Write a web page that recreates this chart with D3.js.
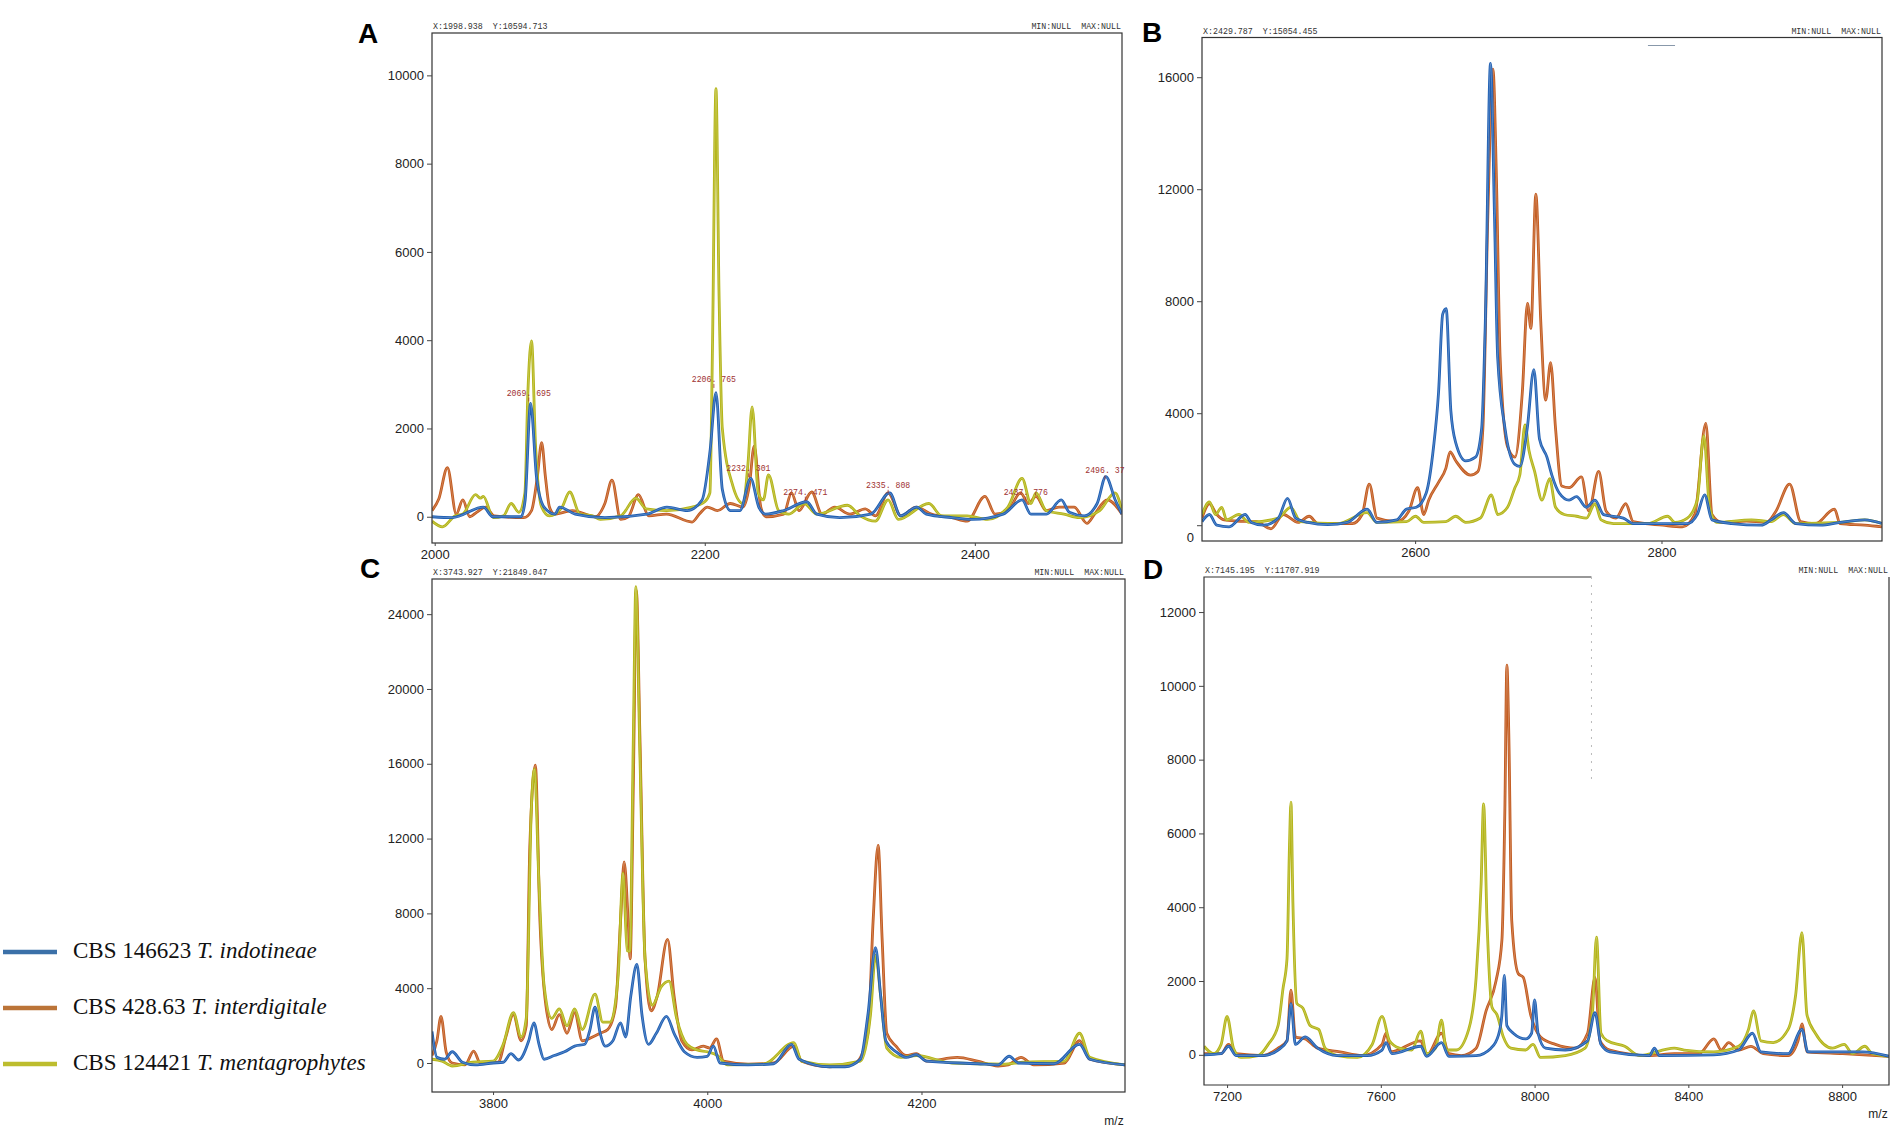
<!DOCTYPE html>
<html>
<head>
<meta charset="utf-8">
<script src="https://cdn.jsdelivr.net/npm/d3@7.9.0/dist/d3.min.js"></script>
<style>
  body { margin: 0; background: #fff; }
  svg { display: block; }
</style>
</head>
<body>
<svg id="chart" width="1904" height="1133"></svg>
<script>
// legend entries
const strains = ['CBS 146623', 'CBS 428.63', 'CBS 124421'];
const species = ['T. indotineae', 'T. interdigitale', 'T. mentagrophytes'];

// panel A : m/z 2000-2500
const aIndotineae = [[1998,0],[2013,-20],[2036,220],[2043,0],[2064,0],[2067,380],[2071,2570],[2075.5,870],[2081,220],[2089,60],[2092.5,220],[2104,60],[2126,-20],[2157,60],[2172,220],[2187,140],[2198,380],[2204,1515],[2208.3,2810],[2213,620],[2219,140],[2226,140],[2234,870],[2240,220],[2245,60],[2258.5,140],[2275.5,340],[2283,60],[2300,-20],[2323,60],[2337,540],[2345,20],[2357,220],[2364,60],[2383,-20],[2398,-60],[2421,60],[2435,380],[2441.5,60],[2453,60],[2464,380],[2470,100],[2481,20],[2490.6,300],[2497,910],[2504,380],[2509,60]];
const aInterdigitale = [[1998,140],[2003,400],[2009.4,1110],[2016,60],[2020.8,380],[2026,0],[2031,100],[2037.7,220],[2044,20],[2066,-20],[2071.7,140],[2076,900],[2079.2,1680],[2082,900],[2085,220],[2088.7,60],[2101.9,140],[2118.9,0],[2126,300],[2131.3,830],[2137.7,-60],[2143.4,0],[2150.9,500],[2158.5,20],[2171.7,60],[2190.6,-120],[2196,60],[2201.9,220],[2209.4,140],[2218.9,300],[2228.3,220],[2233,700],[2236.6,1600],[2241.5,220],[2245.3,0],[2258.5,60],[2264.2,540],[2269.8,140],[2279.2,560],[2286.8,60],[2296.2,220],[2307.5,60],[2318.9,180],[2326.4,20],[2335.8,540],[2345.3,20],[2356.6,220],[2367.9,60],[2383,-20],[2394.3,-100],[2407.5,460],[2415,60],[2424.5,140],[2433.9,540],[2439.6,300],[2445.3,460],[2452.8,140],[2462.3,220],[2473.6,220],[2483,-150],[2488.7,60],[2498.1,380],[2509,60]];
const aMentagrophytes = [[1998,-100],[2005.7,-230],[2015.1,20],[2020.8,60],[2030.2,500],[2034,420],[2036,460],[2043.4,-20],[2050.9,20],[2056.6,300],[2062.3,100],[2066.8,540],[2069,2810],[2071.7,3985],[2074.7,1600],[2079.2,220],[2084.9,20],[2094,200],[2100,560],[2107.5,60],[2117,20],[2122.6,-60],[2137.7,20],[2149,420],[2156.6,180],[2171.7,140],[2190.6,220],[2200,340],[2203.8,540],[2205.7,3800],[2208.3,9700],[2210.6,5000],[2213,2000],[2220.8,700],[2228.3,300],[2232,1200],[2235.1,2490],[2239.6,540],[2243.4,380],[2247.2,950],[2254.7,140],[2262.3,60],[2273.6,300],[2283,60],[2305.7,260],[2315.1,20],[2326.4,-100],[2335.8,380],[2343.4,-60],[2366,300],[2375.5,20],[2394.3,20],[2409.4,-60],[2424.5,220],[2435,870],[2441.5,300],[2445.3,540],[2452.8,140],[2466,60],[2477.4,-20],[2492.5,140],[2503.8,540],[2509,140]];
// peak labels of panel A
const aPeakMz = [2069.695, 2206.765, 2232.301, 2274.471, 2335.808, 2437.776, 2496.37];
const aPeakLabelY = [2746, 3054, 1029, 502, 656, 502, 980];

// panel B : m/z 2430-2980
const bIndotineae = [[2427,128],[2433,383],[2439,0],[2449,-60],[2462,383],[2467,100],[2477,0],[2489,255],[2496.4,960],[2503,255],[2513,100],[2529,20],[2545,100],[2561,575],[2569,100],[2585,190],[2593,575],[2601,640],[2609,1150],[2615,2810],[2619,4730],[2622.4,7540],[2625.2,7730],[2629,4090],[2633,2940],[2641,2300],[2649,2430],[2654,3450],[2657,7280],[2661.2,16490],[2664.4,11120],[2667,6000],[2673,3450],[2681,2170],[2685,2100],[2691,3450],[2696.4,5560],[2701,3070],[2707,2430],[2711,1790],[2717,1150],[2725,895],[2731,1020],[2739,640],[2746,895],[2753,380],[2769,255],[2777,60],[2801,60],[2821,60],[2829,380],[2835,1086],[2841,190],[2857,60],[2881,0],[2889,190],[2899,447],[2909,60],[2929,0],[2945,100],[2965,190],[2979,60]];
const bInterdigitale = [[2427,255],[2433,767],[2439,380],[2445,190],[2455,150],[2471,128],[2483,-128],[2493,383],[2505,100],[2514,320],[2521,60],[2549,60],[2557,383],[2562.8,1470],[2569,255],[2585,128],[2595,510],[2602,1340],[2607,383],[2611,895],[2619,1530],[2625,2040],[2628.4,2620],[2633,2300],[2645,1790],[2651,1920],[2655,3450],[2659,11000],[2663.2,16290],[2666,12400],[2669,6000],[2675,2810],[2681,2430],[2687,4730],[2691.2,7920],[2694,7030],[2698,11820],[2702,7280],[2706,4470],[2710,5810],[2714,3450],[2719,1400],[2725,1340],[2735,1725],[2741,510],[2749,1920],[2755,510],[2763,255],[2771,767],[2777,128],[2801,0],[2817,-60],[2827,383],[2836,3640],[2841,383],[2849,100],[2869,150],[2885,100],[2893,510],[2904,1470],[2913,128],[2925,60],[2940.4,575],[2945,60],[2965,0],[2979,-60]];
const bMentagrophytes = [[2427,383],[2433,830],[2438,383],[2443,640],[2447,190],[2457,383],[2465,100],[2489,255],[2499,640],[2507,128],[2537,60],[2561,447],[2569,100],[2593,128],[2600.4,320],[2607,100],[2625,128],[2633,320],[2641,100],[2653,255],[2662,1086],[2667,383],[2675,640],[2681,1340],[2685,1790],[2689.2,3580],[2692.4,2680],[2697,1920],[2703,895],[2709.2,1660],[2714,640],[2721,383],[2731,320],[2739,255],[2746,767],[2751,190],[2761,60],[2789,60],[2805,320],[2811,100],[2821,255],[2829,895],[2834.4,3200],[2839,640],[2845,100],[2873,190],[2889,128],[2899,383],[2909,60],[2945,100],[2965,190],[2979,60]];

// panel C : m/z 3745-4390
const cIndotineae = [[3743,1690],[3747.6,300],[3754.8,200],[3761.9,600],[3771.4,40],[3783.3,-100],[3800,0],[3809.5,40],[3816.7,500],[3823.8,160],[3833.3,1190],[3838.1,2150],[3842.9,1000],[3847.6,200],[3857.1,400],[3866.7,600],[3876.2,900],[3885.7,1000],[3890.5,1790],[3895.2,2990],[3900,1590],[3904.8,900],[3911.9,1190],[3919,2150],[3923.8,1390],[3928.6,3580],[3934.3,5270],[3939,2590],[3945.2,1000],[3952.4,1590],[3961.9,2490],[3969,1590],[3978.6,600],[3990.5,300],[4000,360],[4005.7,900],[4011.9,0],[4038.1,-100],[4061.9,-40],[4078.6,1000],[4085.7,200],[4114.3,-200],[4128.6,-200],[4142.9,200],[4150,2590],[4157.1,6170],[4161.9,3580],[4166.7,1190],[4176.2,600],[4185.7,300],[4195.2,440],[4204.8,100],[4252.4,-40],[4271.4,-100],[4281.9,360],[4290.5,0],[4323.8,-40],[4347.6,1000],[4357.1,200],[4390,-100]];
const cInterdigitale = [[3743,400],[3747.6,1190],[3751.4,2490],[3756.2,600],[3761.9,0],[3773.8,-100],[3781.9,640],[3788.1,0],[3804.8,40],[3811.9,1390],[3819,2590],[3826.2,1190],[3831,1990],[3834.3,11540],[3839.5,15920],[3843.8,7560],[3847.6,3980],[3854.8,1790],[3861.9,2590],[3869,1590],[3876.2,2690],[3883.3,1190],[3892.9,1390],[3900,1590],[3907.1,1790],[3914.3,2990],[3919,7560],[3922.4,10750],[3926.2,7560],[3928,5570],[3931,15000],[3933.8,25270],[3937.1,17500],[3941.9,5570],[3947.6,2790],[3953.3,3580],[3962.9,6610],[3969,3580],[3976.2,1190],[3985.7,700],[3996.2,900],[4002.4,800],[4008.6,1290],[4015.2,100],[4038.1,-60],[4061.9,0],[4080.9,900],[4088.1,100],[4114.3,-200],[4138.1,0],[4150,1590],[4154.8,7560],[4159.5,11640],[4163.3,6570],[4167.6,1590],[4176.2,900],[4185.7,400],[4195.2,500],[4204.8,100],[4233.3,300],[4252.4,100],[4271.4,-160],[4281,-100],[4292.9,300],[4304.8,-100],[4333.3,0],[4347.6,1190],[4357.1,200],[4390,-100]];
const cMentagrophytes = [[3743,200],[3752.4,100],[3761.9,-160],[3781,40],[3800,100],[3809.5,1000],[3819,2690],[3826.2,1390],[3831,2390],[3835.7,13530],[3838.6,15720],[3842.9,9550],[3847.6,4180],[3854.8,2390],[3861.9,2890],[3869,1990],[3876.2,2890],[3883.3,1790],[3895.2,3680],[3902.4,2190],[3909.5,2190],[3916.7,4580],[3921.4,10150],[3925.2,6000],[3927.6,5970],[3931,17500],[3933.3,25470],[3937.1,16500],[3941.9,5570],[3948.6,3080],[3957.1,4080],[3964.3,4380],[3971.4,2390],[3981,1000],[3990.5,700],[4000,600],[4009.5,400],[4019,-100],[4052.4,-60],[4080.9,1090],[4088.1,100],[4114.3,-100],[4142.9,100],[4152.4,2590],[4157.1,5770],[4161.9,3580],[4167.6,800],[4181,300],[4195.2,400],[4228.6,0],[4276.2,-60],[4295.2,40],[4333.3,100],[4347.6,1590],[4357.1,300],[4390,-100]];

// panel D : m/z 7140-8920
const dIndotineae = [[7140,0],[7184.5,30],[7203.9,232],[7223.2,-20],[7294,-20],[7332.7,130],[7355.9,380],[7366.2,1390],[7377.8,283],[7403.5,485],[7435.7,180],[7487.3,-20],[7564.6,-20],[7603.2,130],[7613.5,333],[7629,30],[7703.7,232],[7719.2,-40],[7757.8,333],[7777.1,-40],[7848,-20],[7886.6,180],[7906,535],[7915,1090],[7921.4,2150],[7927.9,790],[7944.6,585],[7976.8,430],[7992.3,585],[8000,1490],[8009,585],[8028.4,180],[8079.9,130],[8137.9,380],[8157.2,1140],[8172.6,283],[8195.8,80],[8298.9,-20],[8311.7,180],[8324.6,-20],[8466.3,0],[8530.7,130],[8566.8,585],[8588.7,80],[8659.6,30],[8695.6,690],[8711,80],[8852.8,80],[8922,-40]];
const dInterdigitale = [[7140,30],[7184.5,30],[7203.9,283],[7223.2,30],[7294,-20],[7332.7,180],[7355.9,380],[7366.2,1750],[7377.8,485],[7403.5,430],[7435.7,180],[7493.7,80],[7551.7,-20],[7603.2,283],[7613.5,585],[7626.4,80],[7703.7,380],[7719.2,-20],[7757.8,585],[7777.1,30],[7809.3,-20],[7848,180],[7873.8,1190],[7899.6,2000],[7915,3110],[7922.7,6650],[7927.9,10560],[7933,8670],[7940.7,3620],[7957.5,2200],[7970.4,2100],[7989.7,1090],[8015.5,485],[8054.2,283],[8105.7,180],[8137.9,585],[8157.2,2100],[8170.1,380],[8195.8,130],[8298.9,-20],[8363.3,30],[8427.7,30],[8466.3,430],[8485.7,130],[8505,333],[8530.7,130],[8562.8,230],[8595,30],[8659.6,-20],[8685.4,380],[8695.6,840],[8708.5,80],[8801.3,30],[8922,-40]];
const dMentagrophytes = [[7140,232],[7165,30],[7184.5,283],[7200,1040],[7216.7,180],[7236,-70],[7281,-20],[7307,283],[7332.7,790],[7345.6,1800],[7355.9,2600],[7362.3,5640],[7366.2,6850],[7371.3,4120],[7381.6,1390],[7397.1,1270],[7416.4,790],[7438.3,690],[7455.1,180],[7487.3,-20],[7538.8,-70],[7577.5,280],[7603.2,1040],[7622.5,380],[7648.3,180],[7680.5,130],[7703.7,640],[7719.2,30],[7742.4,180],[7757.8,940],[7770.7,130],[7796.5,130],[7828.7,690],[7848,2100],[7860.9,4630],[7867.3,6800],[7876.3,3620],[7889.2,1290],[7902.1,1090],[7918.8,485],[7938.2,180],[7976.8,130],[7996.1,283],[8015.5,-70],[8079.9,-20],[8131.4,180],[8150.8,1190],[8161,3190],[8172.6,585],[8189.4,380],[8234.5,230],[8273.1,-20],[8363.3,180],[8389,130],[8466.3,80],[8530.7,230],[8556.5,690],[8569.4,1190],[8588.7,380],[8621,333],[8659.6,690],[8678.9,1600],[8695.6,3310],[8708.5,1090],[8730.4,585],[8775.5,180],[8805.2,283],[8827,30],[8859.2,232],[8878.6,30],[8922,-40]];

// axis ticks and header readouts
const aXTicks = [2000, 2200, 2400];
const bXTicks = [2600, 2800];
const cXTicks = [3800, 4000, 4200];
const dXTicks = [7200, 7600, 8000, 8400, 8800];
const aYTicks = [0, 2000, 4000, 6000, 8000, 10000];
const bYTicks = [0, 4000, 8000, 12000, 16000];
const cYTicks = [0, 4000, 8000, 12000, 16000, 20000, 24000];
const dYTicks = [0, 2000, 4000, 6000, 8000, 10000, 12000];
const headers = ['X:1998.938  Y:10594.713', 'X:2429.787  Y:15054.455', 'X:3743.927  Y:21849.047', 'X:7145.195  Y:11707.919'];

// colours: spectra and legend swatches
const lineColors = ['#1f5fb3', '#c25a1e', '#b3b416'];
const legendColors = ['#3b70a8', '#bb7438', '#bdbd2e'];

const svg = d3.select('#chart');
svg.append('rect').attr('width', 1904).attr('height', 1133).attr('fill', '#fff');

// panel layout (pixels) with their axis domains
const panels = [
  { key: 'A', left: 432, right: 1122, top: 33, bottom: 543, xd: [1998, 2509], yd: [-595, 10960],
    series: [aIndotineae, aInterdigitale, aMentagrophytes], xt: aXTicks, yt: aYTicks, lx: 358, ly: 43, mz: false },
  { key: 'B', left: 1202, right: 1882, top: 37.5, bottom: 541, xd: [2427, 2979], yd: [-564, 17418],
    series: [bIndotineae, bInterdigitale, bMentagrophytes], xt: bXTicks, yt: bYTicks, lx: 1142, ly: 42, mz: false },
  { key: 'C', left: 432, right: 1125, top: 579, bottom: 1092, xd: [3743, 4390], yd: [-1551, 25880],
    series: [cIndotineae, cInterdigitale, cMentagrophytes], xt: cXTicks, yt: cYTicks, lx: 360, ly: 578, mz: true },
  { key: 'D', left: 1204, right: 1889, top: 577, bottom: 1085, xd: [7140, 8922], yd: [-818, 12950],
    series: [dIndotineae, dInterdigitale, dMentagrophytes], xt: dXTicks, yt: dYTicks, lx: 1143, ly: 579, mz: true }
];

// draw order: interdigitale, mentagrophytes, indotineae on top
const drawOrder = [1, 2, 0];

panels.forEach((p, pi) => {
  const x = d3.scaleLinear().domain(p.xd).range([p.left, p.right]);
  const y = d3.scaleLinear().domain(p.yd).range([p.bottom, p.top]);
  const g = svg.append('g').attr('class', 'panel-' + p.key);

  // clip to plot area
  const clipId = 'clip-' + p.key;
  svg.append('clipPath').attr('id', clipId)
    .append('rect')
    .attr('x', p.left).attr('y', p.top)
    .attr('width', p.right - p.left).attr('height', p.bottom - p.top);

  const line = d3.line()
    .x(d => x(d[0]))
    .y(d => y(d[1]))
    .curve(d3.curveMonotoneX);

  const traces = g.append('g').attr('clip-path', `url(#${clipId})`);
  drawOrder.forEach(si => {
    traces.append('path')
      .datum(p.series[si])
      .attr('d', line)
      .attr('fill', 'none')
      .attr('stroke', lineColors[si])
      .attr('stroke-width', 2.8)
      .attr('stroke-linejoin', 'round');
    // lighter inner trace mimics the overlapping replicates
    traces.append('path')
      .datum(p.series[si])
      .attr('d', line)
      .attr('fill', 'none')
      .attr('stroke', '#fff')
      .attr('stroke-opacity', 0.3)
      .attr('stroke-width', 0.8);
  });

  // frame
  const frame = g.append('g').attr('stroke', '#333').attr('stroke-width', 1.2).attr('fill', 'none');
  if (p.key === 'D') {
    const cut = x(8148);
    frame.append('path').attr('d', `M${cut},${p.top}H${p.left}V${p.bottom}H${p.right}V${p.top}`);
    g.append('line')
      .attr('x1', cut).attr('x2', cut).attr('y1', p.top).attr('y2', y(7400))
      .attr('stroke', '#bbb').attr('stroke-width', 1).attr('stroke-dasharray', '2,6');
  } else {
    frame.append('rect')
      .attr('x', p.left).attr('y', p.top)
      .attr('width', p.right - p.left).attr('height', p.bottom - p.top);
  }

  // axes
  const yAxis = g.append('g')
    .attr('transform', `translate(${p.left},0)`)
    .call(d3.axisLeft(y).tickValues(p.yt).tickSize(5).tickPadding(3).tickFormat(d3.format('d')));
  const xAxis = g.append('g')
    .attr('transform', `translate(0,${p.bottom})`)
    .call(d3.axisBottom(x).tickValues(p.xt).tickSize(3).tickPadding(4).tickFormat(d3.format('d')));
  [yAxis, xAxis].forEach(ax => {
    ax.select('.domain').remove();
    ax.selectAll('line').attr('stroke', '#444');
    ax.selectAll('text')
      .attr('fill', '#222')
      .style('font-family', 'Liberation Sans, Arial, sans-serif')
      .style('font-size', '13px');
  });
  // panel B draws its zero label below the tick
  if (p.key === 'B') {
    yAxis.selectAll('.tick').filter(d => d === 0).select('text').attr('dy', '1.25em');
  }

  if (p.mz) {
    g.append('text')
      .attr('x', p.right - 11).attr('y', p.bottom + 33)
      .attr('text-anchor', 'middle')
      .style('font-family', 'Liberation Sans, Arial, sans-serif')
      .style('font-size', '12px')
      .attr('fill', '#222')
      .text('m/z');
  }

  // readout headers
  const hdr = g.append('g')
    .style('font-family', 'Liberation Mono, DejaVu Sans Mono, monospace')
    .style('font-size', '8.3px')
    .attr('fill', '#333');
  hdr.append('text').attr('x', p.left + 1).attr('y', p.top - 4).attr('xml:space', 'preserve').text(headers[pi]);
  hdr.append('text').attr('x', p.right - 1).attr('y', p.top - 4).attr('text-anchor', 'end')
    .attr('xml:space', 'preserve').text('MIN:NULL  MAX:NULL');

  // panel letter
  g.append('text')
    .attr('x', p.lx).attr('y', p.ly)
    .style('font-family', 'Liberation Sans, Arial, sans-serif')
    .style('font-weight', 'bold')
    .style('font-size', '28px')
    .attr('fill', '#000')
    .text(p.key);

  // peak annotations (panel A only)
  if (p.key === 'A') {
    const ann = g.append('g').attr('fill', '#a03232')
      .style('font-family', 'Liberation Mono, DejaVu Sans Mono, monospace')
      .style('font-size', '8.2px');
    aPeakMz.forEach((mz, i) => {
      ann.append('text')
        .attr('x', x(mz)).attr('y', y(aPeakLabelY[i]))
        .attr('text-anchor', 'middle')
        .text(String(mz).replace('.', '. '));
      ann.append('line')
        .attr('x1', x(mz)).attr('x2', x(mz))
        .attr('y1', y(aPeakLabelY[i]) + 2).attr('y2', y(aPeakLabelY[i]) + 6)
        .attr('stroke', '#a03232').attr('stroke-width', 0.8);
    });
  }

  // small grey artifact near the top of panel B
  if (p.key === 'B') {
    g.append('line')
      .attr('x1', x(2789)).attr('x2', x(2811)).attr('y1', p.top + 8).attr('y2', p.top + 8)
      .attr('stroke', '#8898aa').attr('stroke-width', 1);
  }
});

// legend
const legend = svg.append('g');
strains.forEach((s, i) => {
  const ly = 952 + i * 56;
  legend.append('line')
    .attr('x1', 3).attr('x2', 57).attr('y1', ly).attr('y2', ly)
    .attr('stroke', legendColors[i]).attr('stroke-width', 4.5);
  const t = legend.append('text')
    .attr('x', 73).attr('y', ly + 6)
    .style('font-family', 'Liberation Serif, Times New Roman, serif')
    .style('font-size', '23px')
    .attr('fill', '#111');
  t.append('tspan').text(s + ' ');
  t.append('tspan').style('font-style', 'italic').text(species[i]);
});
</script>
</body>
</html>
